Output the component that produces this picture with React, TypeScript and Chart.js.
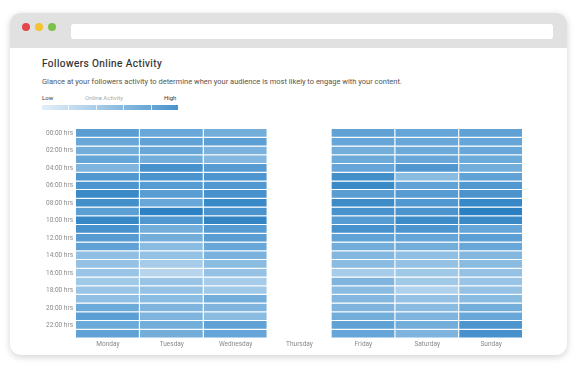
import React, { useEffect, useRef } from "react";
import { Chart, registerables } from "chart.js";

Chart.register(...registerables);

const days = ["Monday", "Tuesday", "Wednesday", "Thursday", "Friday", "Saturday", "Sunday"];
const hourLabels = [
  "00:00 hrs", "02:00 hrs", "04:00 hrs", "06:00 hrs", "08:00 hrs", "10:00 hrs",
  "12:00 hrs", "14:00 hrs", "16:00 hrs", "18:00 hrs", "20:00 hrs", "22:00 hrs",
];

// activity level per hour (0..23), 0 = low, 100 = high
const monday = [60, 50, 45, 52, 40, 65, 68, 80, 75, 58, 82, 72, 62, 55, 32, 30, 28, 25, 28, 32, 48, 58, 48, 55];
const tuesday = [50, 55, 50, 45, 72, 70, 62, 60, 50, 88, 65, 45, 45, 35, 30, 22, 15, 28, 30, 35, 40, 40, 45, 45];
const wednesday = [45, 58, 42, 38, 62, 68, 65, 72, 80, 70, 85, 62, 60, 50, 42, 35, 30, 22, 25, 45, 40, 35, 55, 52];
const thursday: (number | null)[] = [];
const friday = [55, 52, 45, 48, 52, 75, 80, 60, 78, 72, 62, 72, 55, 45, 38, 35, 22, 40, 35, 38, 40, 45, 55, 52];
const saturday = [52, 50, 48, 50, 65, 35, 55, 62, 65, 70, 78, 68, 52, 45, 32, 30, 25, 25, 18, 30, 35, 40, 45, 40];
const sunday = [55, 52, 50, 48, 45, 55, 65, 70, 82, 90, 80, 52, 58, 50, 38, 35, 30, 28, 30, 35, 45, 50, 68, 72];

const series = [monday, tuesday, wednesday, thursday, friday, saturday, sunday];

const STOPS: [number, number[]][] = [
  [0, [216, 233, 246]],
  [50, [104, 167, 216]],
  [100, [28, 118, 188]],
];
function levelColor(v: number | null | undefined): string {
  if (v === null || v === undefined) return "rgba(0,0,0,0)";
  const x = Math.max(0, Math.min(100, v));
  let k = 0;
  while (k < STOPS.length - 2 && x > STOPS[k + 1][0]) k++;
  const [a, ca] = STOPS[k];
  const [b, cb] = STOPS[k + 1];
  const t = (x - a) / (b - a);
  const c = ca.map((l, i) => Math.round(l + (cb[i] - l) * t));
  return `rgb(${c[0]},${c[1]},${c[2]})`;
}

function Heatmap() {
  const ref = useRef<HTMLCanvasElement | null>(null);
  useEffect(() => {
    if (!ref.current) return;
    const datasets = Array.from({ length: 24 }, (_, h) => ({
      label: String(h),
      data: days.map((_, di) => (series[di].length ? 1 : null)),
      backgroundColor: days.map((_, di) => levelColor(series[di][h])),
      borderColor: "#ffffff",
      borderWidth: { top: 0, left: 0, right: 1, bottom: 1 },
      borderSkipped: false,
      inflateAmount: 0,
      barPercentage: 1,
      categoryPercentage: 1,
    }));
    const chart = new Chart(ref.current, {
      type: "bar",
      data: { labels: days, datasets: datasets as any },
      options: {
        animation: false,
        responsive: true,
        maintainAspectRatio: false,
        layout: { padding: { left: 20, right: 55, top: 9, bottom: 9.5 } },
        plugins: { legend: { display: false }, tooltip: { enabled: false } },
        scales: {
          x: {
            stacked: true,
            grid: { display: false, drawTicks: false },
            border: { display: false },
            ticks: { color: "#8a8a8a", font: { family: "Roboto", size: 6.5 }, padding: 2, maxRotation: 0 },
            afterFit: (s: any) => { s.height = 12; },
          },
          y: {
            type: "linear",
            stacked: true,
            reverse: true,
            min: 0,
            max: 24,
            grid: { display: false, drawTicks: false },
            border: { display: false },
            afterBuildTicks: (s: any) => {
              s.ticks = hourLabels.map((_, i) => ({ value: i * 2 + 0.5 }));
            },
            ticks: {
              color: "#8a8a8a",
              font: { family: "Roboto", size: 6.5 },
              padding: 3,
              autoSkip: false,
              callback: (_v: any, i: number) => hourLabels[i],
            },
            afterFit: (s: any) => { s.width = 56; },
          },
        },
      },
    });
    return () => chart.destroy();
  }, []);
  return (
    <div style={{ position: "absolute", left: 0, top: 120, width: 578, height: 240 }}>
      <canvas ref={ref} />
    </div>
  );
}

export default function App() {
  const dot = (x: number, c: string) => (
    <div style={{ position: "absolute", left: x - 4, top: 23, width: 8, height: 8, borderRadius: 4, background: c }} />
  );
  return (
    <div style={{ position: "fixed", left: 0, top: 0, width: 578, height: 371, background: "#fff", fontFamily: "Roboto, sans-serif", overflow: "hidden" }}>
      <div style={{ position: "absolute", left: 10, top: 13, width: 557, height: 342, borderRadius: 11, background: "#fff", boxShadow: "0 2px 7px rgba(0,0,0,0.18)", overflow: "hidden" }}>
        <div style={{ position: "absolute", left: 0, top: 0, width: "100%", height: 35, background: "#e1e1e1" }} />
      </div>
      {dot(26, "#e2474c")}
      {dot(39, "#f6c22d")}
      {dot(52, "#7bc14a")}
      <div style={{ position: "absolute", left: 71, top: 24, width: 482, height: 15, borderRadius: 3, background: "#fff" }} />
      <div style={{ position: "absolute", left: 42, top: 58, fontSize: 10, fontWeight: 400, color: "#2e2e2e", letterSpacing: 0.45, whiteSpace: "nowrap", WebkitTextStroke: "0.2px #2e2e2e" }}>
        Followers Online Activity
      </div>
      <div style={{ position: "absolute", left: 42, top: 76.5, fontSize: 7.5, color: "#555", whiteSpace: "nowrap" }}>
        Glance at your followers activity to determine when your audience is most likely to engage with your content.
      </div>
      <div style={{ position: "absolute", left: 42, top: 94, fontSize: 6, color: "#333" }}>Low</div>
      <div style={{ position: "absolute", left: 85, top: 94, fontSize: 6, color: "#aaa", whiteSpace: "nowrap" }}>Online Activity</div>
      <div style={{ position: "absolute", left: 164, top: 94, fontSize: 6, color: "#333" }}>High</div>
      <div style={{ position: "absolute", left: 42, top: 105, width: 136, height: 5, background: "linear-gradient(to right, #e3eff8, #b8d6ec 30%, #86b9df 60%, #4a93cb)" }} />
      {[68, 96, 123, 151].map((x) => (
        <div key={x} style={{ position: "absolute", left: x, top: 105, width: 1, height: 5, background: "rgba(255,255,255,0.8)" }} />
      ))}
      <Heatmap />
    </div>
  );
}
